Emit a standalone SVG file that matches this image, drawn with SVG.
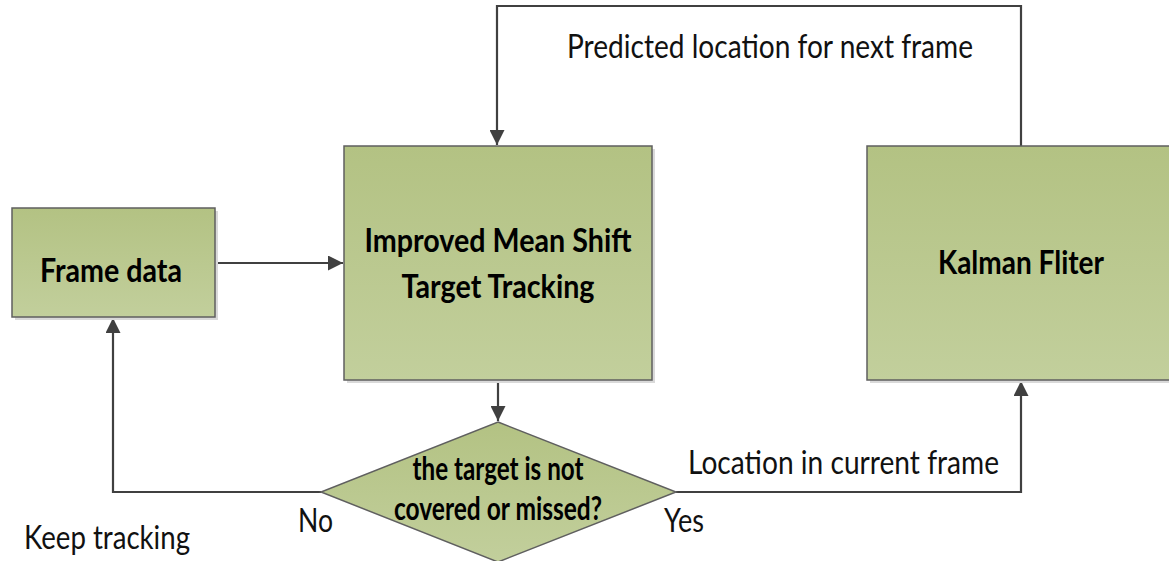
<svg xmlns="http://www.w3.org/2000/svg" width="1169" height="561" viewBox="0 0 1169 561">
  <defs>
    <linearGradient id="boxFill" x1="0" y1="0" x2="0" y2="1">
      <stop offset="0" stop-color="#b3c283"/>
      <stop offset="1" stop-color="#c2cf9c"/>
    </linearGradient>
    <marker id="arrow" viewBox="0 0 10 10" refX="10" refY="5" markerWidth="16" markerHeight="15" markerUnits="userSpaceOnUse" orient="auto">
      <path d="M0,0 L10,5 L0,10 z" fill="#404040"/>
    </marker>
    <style>
      .box { fill: url(#boxFill); stroke: #5f5f5f; stroke-width: 1.5; }
      .shadow { fill: #d9d9d9; }
      .conn { fill: none; stroke: #404040; stroke-width: 2.2; }
      .lbl { font-family: Lato, "Liberation Sans", sans-serif; font-size: 32px; fill: #111; }
      .bold { font-family: Lato, "Liberation Sans", sans-serif; font-weight: bold; font-size: 32px; fill: #000; }
    </style>
  </defs>

  <rect width="1169" height="561" fill="#ffffff"/>

  <!-- connectors -->
  <g id="connectors">
    <path class="conn" d="M1021,146 V6 H497 V145" marker-end="url(#arrow)"/>
    <path class="conn" d="M215,263 H343" marker-end="url(#arrow)"/>
    <path class="conn" d="M498,380 V421" marker-end="url(#arrow)"/>
    <path class="conn" d="M321,492 H113 V318" marker-end="url(#arrow)"/>
    <path class="conn" d="M676,492 H1021 V381" marker-end="url(#arrow)"/>
  </g>

  <!-- Frame data -->
  <g id="frame-data">
    <rect class="shadow" x="15" y="211" width="203" height="109"/>
    <rect class="box" x="12" y="208" width="203" height="109"/>
    <text class="bold" x="111" y="282" text-anchor="middle" textLength="142" lengthAdjust="spacingAndGlyphs">Frame data</text>
  </g>

  <!-- Improved Mean Shift Target Tracking -->
  <g id="mean-shift">
    <rect class="shadow" x="347" y="149" width="308" height="234"/>
    <rect class="box" x="344" y="146" width="308" height="234"/>
    <text class="bold" x="498" y="252" text-anchor="middle" textLength="267" lengthAdjust="spacingAndGlyphs">Improved Mean Shift</text>
    <text class="bold" x="498" y="298" text-anchor="middle" textLength="193" lengthAdjust="spacingAndGlyphs">Target Tracking</text>
  </g>

  <!-- Kalman Fliter -->
  <g id="kalman">
    <rect class="shadow" x="870" y="149" width="308" height="234"/>
    <rect class="box" x="867" y="146" width="308" height="234"/>
    <text class="bold" x="1021" y="274" text-anchor="middle" textLength="166" lengthAdjust="spacingAndGlyphs">Kalman Fliter</text>
  </g>

  <!-- decision -->
  <g id="decision">
    <polygon class="box" points="498,422 676,492 498,562 321,492"/>
    <text class="bold" x="498" y="480" text-anchor="middle" font-size="27" textLength="171" lengthAdjust="spacingAndGlyphs">the target is not</text>
    <text class="bold" x="498" y="520" text-anchor="middle" font-size="27" textLength="208" lengthAdjust="spacingAndGlyphs">covered or missed?</text>
  </g>

  <!-- edge labels -->
  <g id="labels">
    <text class="lbl" x="770" y="58" text-anchor="middle" textLength="406" lengthAdjust="spacingAndGlyphs">Predicted location for next frame</text>
    <text class="lbl" x="688" y="474" textLength="311" lengthAdjust="spacingAndGlyphs">Location in current frame</text>
    <text class="lbl" x="24" y="549" textLength="166" lengthAdjust="spacingAndGlyphs">Keep tracking</text>
    <text class="lbl" x="298" y="532" textLength="35" lengthAdjust="spacingAndGlyphs">No</text>
    <text class="lbl" x="664" y="532" textLength="40" lengthAdjust="spacingAndGlyphs">Yes</text>
  </g>
</svg>
